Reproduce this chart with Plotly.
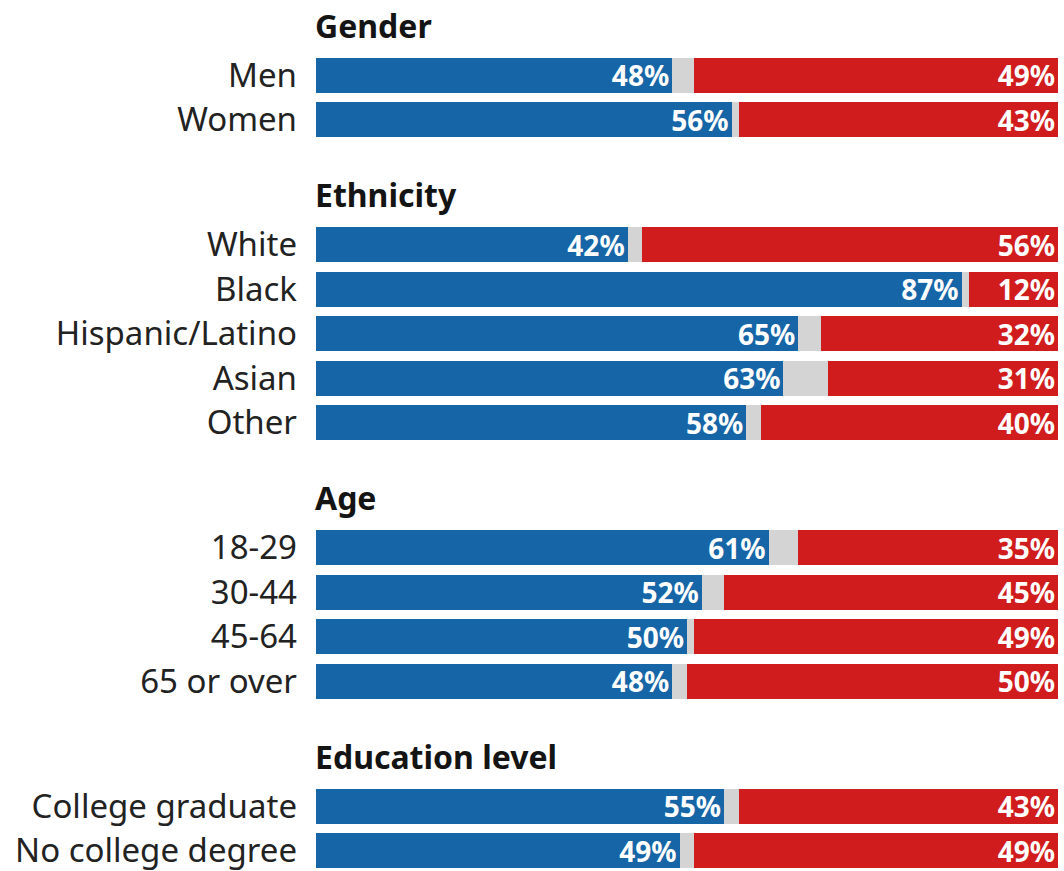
import plotly.graph_objects as go

groups = ["Gender", "Ethnicity", "Age", "Education level"]
categories = [
    ["Men", "Women"],
    ["White", "Black", "Hispanic/Latino", "Asian", "Other"],
    ["18-29", "30-44", "45-64", "65 or over"],
    ["College graduate", "No college degree"],
]
dem = [[48, 56], [42, 87, 65, 63, 58], [61, 52, 50, 48], [55, 49]]
rep = [[49, 43], [56, 12, 32, 31, 40], [35, 45, 49, 50], [43, 49]]

BLUE = "#1565a7"
RED = "#d01c1d"
GREY = "#d4d4d4"
FONT = "Noto Sans"

# layout (pixel units on the y axis)
first_header = 25
header_to_row = 50
row_pitch = 44.5
row_to_header = 75
bar_h = 35
W, H = 1064, 871

labels, d_vals, r_vals, g_vals, ypos = [], [], [], [], []
header_y = []
y = first_header
for gi, g in enumerate(groups):
    header_y.append(y)
    y += header_to_row
    for ci, c in enumerate(categories[gi]):
        labels.append(c)
        d_vals.append(dem[gi][ci])
        r_vals.append(rep[gi][ci])
        g_vals.append(100 - dem[gi][ci] - rep[gi][ci])
        ypos.append(y)
        y += row_pitch
    y += row_to_header - row_pitch

fig = go.Figure()
fig.add_trace(go.Bar(
    y=ypos, x=d_vals, orientation="h", width=bar_h,
    marker=dict(color=BLUE, line=dict(width=0)),
    text=[f"{v}%" for v in d_vals], textposition="inside",
    insidetextanchor="end", constraintext="none",
    textfont=dict(family=FONT, size=28, color="white", weight="bold"),
    hoverinfo="skip",
))
fig.add_trace(go.Bar(
    y=ypos, x=g_vals, orientation="h", width=bar_h,
    marker=dict(color=GREY, line=dict(width=0)), hoverinfo="skip",
))
fig.add_trace(go.Bar(
    y=ypos, x=r_vals, orientation="h", width=bar_h,
    marker=dict(color=RED, line=dict(width=0)),
    text=[f"{v}%" for v in r_vals], textposition="inside",
    insidetextanchor="end", constraintext="none",
    textfont=dict(family=FONT, size=28, color="white", weight="bold"),
    hoverinfo="skip",
))

for g, hy in zip(groups, header_y):
    fig.add_annotation(x=0, y=hy, xref="x", yref="y", text=g, showarrow=False,
                       xanchor="left", yanchor="middle", xshift=-3,
                       font=dict(family=FONT, size=32, color="#141414", weight="bold"))

fig.update_layout(
    barmode="stack",
    width=W, height=H,
    margin=dict(l=316, r=6, t=0, b=0),
    paper_bgcolor="white", plot_bgcolor="white",
    showlegend=False,
    bargap=0,
    xaxis=dict(range=[0, 100], visible=False, fixedrange=True),
    yaxis=dict(range=[H, 0], tickvals=ypos, ticktext=labels,
               showgrid=False, zeroline=False, showline=False, ticks="",
               ticklabelstandoff=18, ticklabeloverflow="allow", fixedrange=True,
               tickfont=dict(family=FONT, size=33, color="#222222")),
    font=dict(family=FONT),
)

fig.write_html(
    "out.html",
    config={"displayModeBar": False, "staticPlot": True},
    post_script="document.body.style.margin='0';document.body.style.overflow='hidden';",
)
